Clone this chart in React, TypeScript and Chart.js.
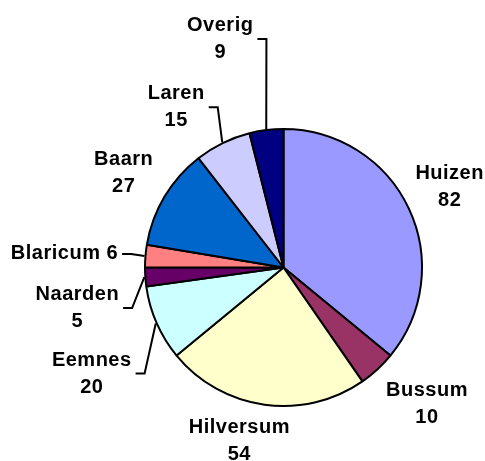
import React, { useEffect, useRef } from "react";
import { Chart, registerables } from "chart.js";

Chart.register(...registerables);

const categories = ["Huizen", "Bussum", "Hilversum", "Eemnes", "Naarden", "Blaricum", "Baarn", "Laren", "Overig"];
const values = [82, 10, 54, 20, 5, 6, 27, 15, 9];
const colors = ["#9999FF", "#993366", "#FFFFCC", "#CCFFFF", "#660066", "#FF8080", "#0066CC", "#CCCCFF", "#000080"];

// label placement relative to the slice's outer mid-point (styling only)
const labelOffsets: [number, number][] = [
  [40, -21], [49, 34], [-25, 35], [-64, 50], [-67, 31], [-80, -2], [-40, -23], [-46, -35], [-46, -90],
];
const singleLine = [false, false, false, false, false, true, false, false, false];
const hasLeader = [false, false, false, true, true, true, false, true, true];

const FONT = "bold 20px 'Liberation Sans', Arial, sans-serif";
const LINE_H = 27;

const labelPlugin = {
  id: "pieLabels",
  afterDraw(chart: any) {
    const ctx = chart.ctx as CanvasRenderingContext2D;
    const meta = chart.getDatasetMeta(0);
    ctx.save();
    ctx.font = FONT;
    (ctx as any).letterSpacing = "0.5px";
    ctx.fillStyle = "#000";
    ctx.strokeStyle = "#000";
    ctx.lineWidth = 2;
    ctx.textAlign = "center";
    ctx.textBaseline = "middle";
    meta.data.forEach((arc: any, i: number) => {
      const mid = (arc.startAngle + arc.endAngle) / 2;
      const r = arc.outerRadius + 1;
      const ex = arc.x + Math.cos(mid) * r;
      const ey = arc.y + Math.sin(mid) * r;
      const cx = ex + labelOffsets[i][0];
      const cy = ey + labelOffsets[i][1];
      let lines: string[];
      if (singleLine[i]) lines = [categories[i] + " " + values[i]];
      else lines = [categories[i], String(values[i])];
      const w = Math.max(...lines.map((l) => ctx.measureText(l).width));
      lines.forEach((l, k) => {
        const y = cy + (k - (lines.length - 1) / 2) * LINE_H;
        ctx.fillText(l, cx, y);
      });
      if (hasLeader[i]) {
        const sx = cx + w / 2 + 4;
        const elx = sx + 9;
        ctx.beginPath();
        ctx.moveTo(sx, cy);
        ctx.lineTo(elx, cy);
        ctx.lineTo(ex, ey);
        ctx.stroke();
      }
    });
    ctx.restore();
  },
};

export default function App() {
  const ref = useRef<HTMLCanvasElement | null>(null);
  useEffect(() => {
    if (!ref.current) return;
    const chart = new Chart(ref.current, {
      type: "pie",
      data: {
        labels: categories,
        datasets: [
          {
            data: values,
            backgroundColor: colors,
            borderColor: "#000",
            borderWidth: 2,
            hoverOffset: 0,
          },
        ],
      },
      options: {
        animation: false,
        responsive: false,
        maintainAspectRatio: false,
        layout: { padding: { left: 144, top: 128, right: 62, bottom: 54 } },
        plugins: { legend: { display: false }, tooltip: { enabled: false } },
      },
      plugins: [labelPlugin],
    });
    return () => chart.destroy();
  }, []);
  return (
    <div style={{ position: "absolute", left: 0, top: 0, width: 485, height: 461, background: "#fff" }}>
      <canvas ref={ref} width={485} height={461} style={{ width: 485, height: 461 }} />
    </div>
  );
}
